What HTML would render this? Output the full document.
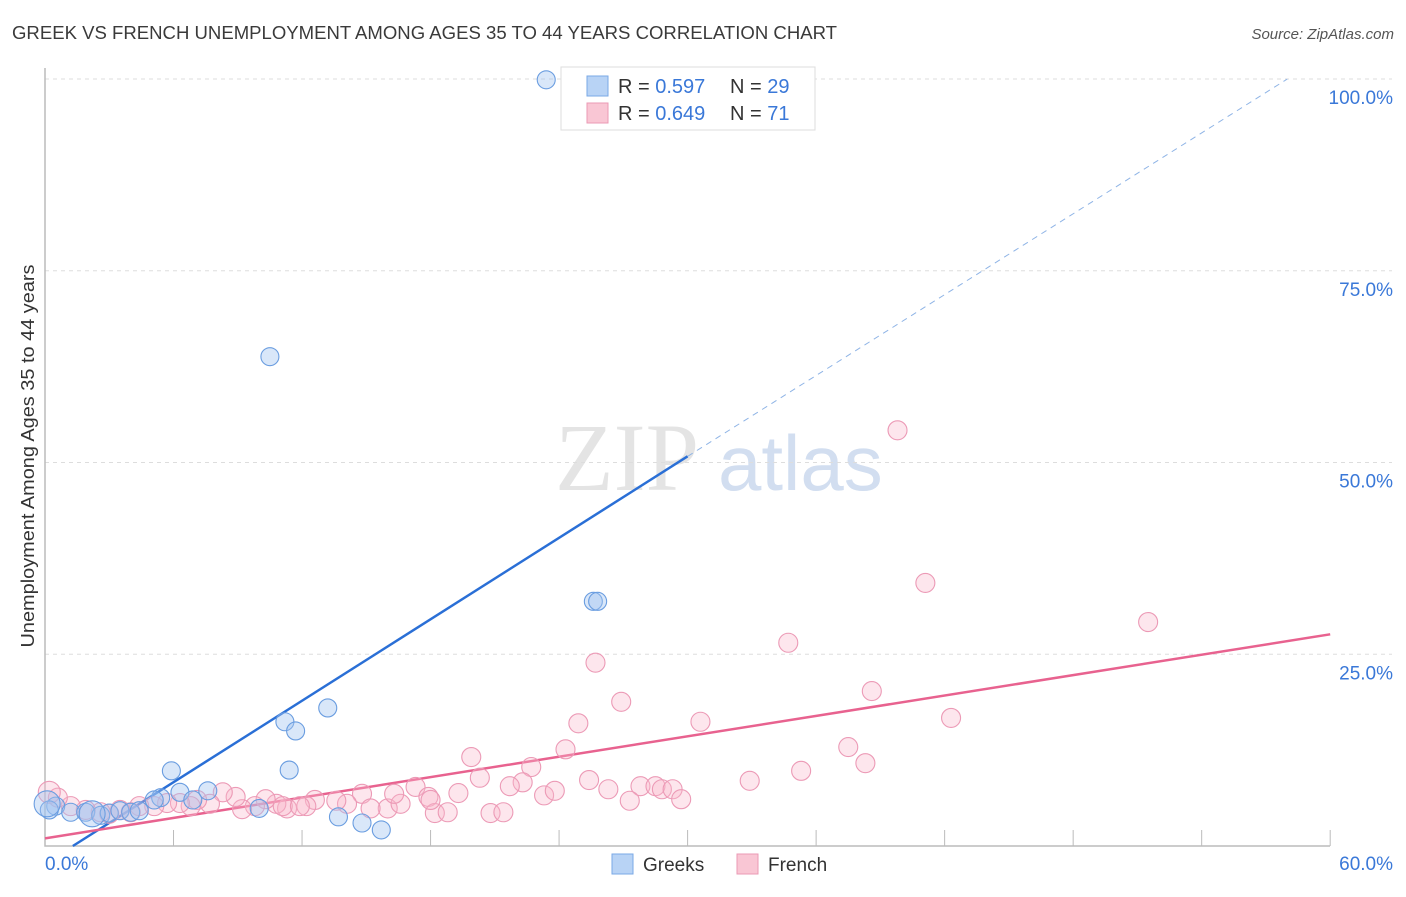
<!DOCTYPE html>
<html><head><meta charset="utf-8"><style>
body{margin:0;background:#fff;width:1406px;height:892px;overflow:hidden;font-family:"Liberation Sans",sans-serif;}
</style></head><body>
<svg id="chart" width="1406" height="892" xmlns="http://www.w3.org/2000/svg">
<text x="12" y="39" font-size="18" fill="#3a3a3a" textLength="825" lengthAdjust="spacingAndGlyphs">GREEK VS FRENCH UNEMPLOYMENT AMONG AGES 35 TO 44 YEARS CORRELATION CHART</text>
<text x="1394" y="39" font-size="15" fill="#555" font-style="italic" text-anchor="end">Source: ZipAtlas.com</text>
<text x="34" y="456" font-size="18" fill="#333" text-anchor="middle" textLength="383" lengthAdjust="spacingAndGlyphs" transform="rotate(-90 34 456)">Unemployment Among Ages 35 to 44 years</text>
<text x="555" y="490" font-size="96" fill="#e4e4e4" font-family="Liberation Serif,serif">ZIP</text>
<text x="718" y="490" font-size="78" fill="#d2def0">atlas</text>
<g id="grid"></g><g id="axes"></g><g id="trend"></g><g id="pts"></g>
<g>
<rect x="561" y="67" width="254" height="63" fill="#fff" stroke="#ddd"/>
<rect x="587" y="76" width="21" height="20" fill="#b8d3f5" stroke="#7aa8e6"/>
<text x="618" y="93" font-size="20" fill="#333">R = <tspan fill="#3a78d8">0.597</tspan></text>
<text x="730" y="93" font-size="20" fill="#333">N = <tspan fill="#3a78d8">29</tspan></text>
<rect x="587" y="103" width="21" height="20" fill="#f9c6d4" stroke="#eb9ab4"/>
<text x="618" y="120" font-size="20" fill="#333">R = <tspan fill="#3a78d8">0.649</tspan></text>
<text x="730" y="120" font-size="20" fill="#333">N = <tspan fill="#3a78d8"> 71</tspan></text>
</g>
<g>
<rect x="612" y="854" width="21" height="20" fill="#b8d3f5" stroke="#7aa8e6"/>
<text x="643" y="871" font-size="19" fill="#333">Greeks</text>
<rect x="737" y="854" width="21" height="20" fill="#f9c6d4" stroke="#eb9ab4"/>
<text x="768" y="871" font-size="19" fill="#333">French</text>
</g>
</svg>
<script>
const yTicks=[25,50,75,100];
const yTickLabels=["25.0%","50.0%","75.0%","100.0%"];
const xTicks=[6,12,18,24,30,36,42,48,54,60];
const greekX=[23.4,10.5,25.6,25.8,5.9,11.4,11.2,11.7,13.2,6.3,7.6,5.4,6.9,10.0,13.7,14.8,15.7,0.5,0.2,1.2,1.9,2.6,3.0,3.5,4.0,4.4,5.1,0.1,2.2];
const greekY=[99.9,63.8,31.9,31.9,9.8,9.9,16.2,15.0,18.0,7.0,7.2,6.3,6.0,4.9,3.8,3.0,2.1,5.2,4.7,4.4,4.4,4.0,4.3,4.6,4.4,4.6,6.0,5.5,4.2];
const frenchX=[39.8,41.1,51.5,34.7,25.7,38.6,42.3,26.9,24.9,30.6,37.5,38.3,19.9,35.3,24.3,32.9,22.7,20.3,22.3,25.4,26.3,27.8,28.5,28.8,29.3,29.7,27.3,21.7,23.3,23.8,19.3,17.3,17.9,14.8,14.1,13.6,12.6,12.2,11.3,10.8,10.3,9.8,9.2,8.9,8.3,7.7,7.1,6.8,6.3,5.7,5.1,4.4,4.0,3.5,3.0,2.6,1.9,1.2,0.6,0.2,16.0,16.6,18.2,18.8,20.8,21.4,15.2,16.3,18.0,11.1,11.9];
const frenchY=[54.2,34.3,29.2,26.5,23.9,20.2,16.7,18.8,16.0,16.2,12.9,10.8,11.6,9.8,12.6,8.5,10.3,8.9,8.3,8.6,7.4,7.8,7.8,7.4,7.4,6.1,5.9,7.8,6.6,7.2,6.9,7.7,6.4,6.8,5.5,5.9,6.0,5.2,4.9,5.5,6.1,5.2,4.8,6.4,7.0,5.5,6.0,5.2,5.6,5.6,5.2,5.2,4.4,4.7,4.2,4.4,4.7,5.2,6.3,7.0,4.9,5.5,4.3,4.4,4.3,4.4,4.9,6.8,6.0,5.2,5.2];
const greekTrend=[1.3,0,30,50.8,58,100];
const frenchTrend=[0,1.0,60,27.6];
const X=v=>45+v*21.42, Y=v=>846-v*7.67;
const NS='http://www.w3.org/2000/svg';
function mk(p,t,a){const e=document.createElementNS(NS,t);for(const k in a)e.setAttribute(k,a[k]);document.getElementById(p).appendChild(e);return e;}
yTicks.forEach((t,i)=>{
 const g=mk('grid','line',{x1:45,x2:1392,y1:Y(t),y2:Y(t),stroke:'#ddd','stroke-dasharray':'4 4'});
 
 
 const l=mk('grid','text',{x:1393,y:Y(t)+25,'font-size':19,fill:'#3a78d8','text-anchor':'end'});l.textContent=yTickLabels[i];
 
 
});
const ax=mk('axes','path',{d:`M45 68V846H1330`,fill:'none',stroke:'#bbb','stroke-width':1.5});


xTicks.forEach(t=>{const k=mk('axes','line',{x1:X(t),x2:X(t),y1:830,y2:846,stroke:'#bbb'});
 
 });
const x0=mk('axes','text',{x:45,y:870,'font-size':19,fill:'#3a78d8'});x0.textContent='0.0%';


const x1=mk('axes','text',{x:1393,y:870,'font-size':19,fill:'#3a78d8','text-anchor':'end'});x1.textContent='60.0%';


function dot(x,y,r,fill,st,name){const c=mk('pts','circle',{cx:X(x),cy:Y(y),r:r,fill:fill,stroke:st,'stroke-width':1.1});
 
 }
frenchX.forEach((x,i)=>dot(x,frenchY[i],i==59?11:9.5,'rgba(248,182,202,0.35)','#ec9ab6','french-point'));
greekX.forEach((x,i)=>dot(x,greekY[i],i>=27?13:9,'rgba(160,196,240,0.4)','#6a9de0','greek-point'));
const t1=mk('trend','line',{x1:X(greekTrend[0]),y1:Y(greekTrend[1]),x2:X(greekTrend[2]),y2:Y(greekTrend[3]),stroke:'#2a6fd6','stroke-width':2.5});


const t2=mk('trend','line',{x1:X(greekTrend[2]),y1:Y(greekTrend[3]),x2:X(greekTrend[4]),y2:Y(greekTrend[5]),stroke:'#8fb4e6','stroke-width':1,'stroke-dasharray':'6 5'});


const t3=mk('trend','line',{x1:X(frenchTrend[0]),y1:Y(frenchTrend[1]),x2:X(frenchTrend[2]),y2:Y(frenchTrend[3]),stroke:'#e8628f','stroke-width':2.5});


</script>
</body></html>
